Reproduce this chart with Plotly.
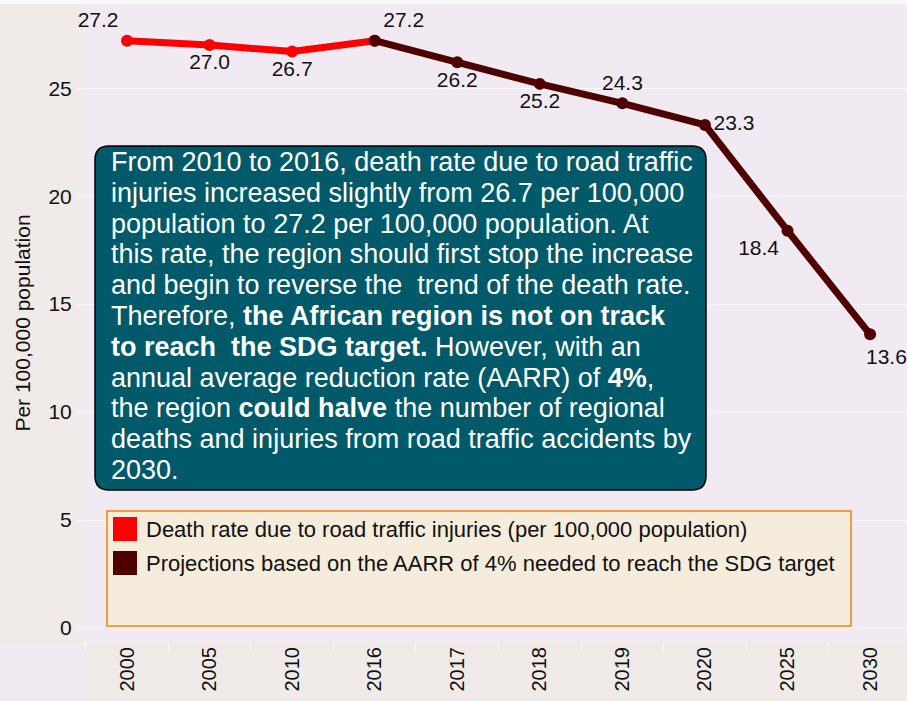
import plotly.graph_objects as go

# ---- data ----
years = ["2000", "2005", "2010", "2016", "2017", "2018", "2019", "2020", "2025", "2030"]
observed_years = ["2000", "2005", "2010", "2016"]
observed_rate = [27.2, 27.0, 26.7, 27.2]
projection_years = ["2016", "2017", "2018", "2019", "2020", "2025", "2030"]
projection_rate = [27.2, 26.2, 25.2, 24.3, 23.3, 18.4, 13.6]
y_ticks = [0, 5, 10, 15, 20, 25]
legend_names = ["Death rate due to road traffic injuries (per 100,000 population)",
                "Projections based on the AARR of 4% needed to reach the SDG target"]
box_lines = [
    "From 2010 to 2016, death rate due to road traffic",
    "injuries increased slightly from 26.7 per 100,000",
    "population to 27.2 per 100,000 population. At",
    "this rate, the region should first stop the increase",
    "and begin to reverse the\u00a0 trend of the death rate.",
    "Therefore, <b>the African region is not on track</b>",
    "<b>to reach\u00a0 the SDG target.</b> However, with an",
    "annual average reduction rate (AARR) of <b>4%</b>,",
    "the region <b>could halve</b> the number of regional",
    "deaths and injuries from road traffic accidents by",
    "2030.",
]

RED = "#ff0000"
DARK = "#4f0000"
LAV = "#f1eaf3"
BEIGE = "#f0ebe8"
FONT = "Liberation Sans, Arial, sans-serif"
LABEL_FONT = dict(size=21, color="#111111", family=FONT)

W, H = 907, 701
ML, MR, MT, MB = 84, 0, 4, 59
PW, PH = W - ML - MR, H - MT - MB


def px_x(px):
    return (px - ML) / PW


def px_y(py):
    return (H - MB - py) / PH


fig = go.Figure()

fig.add_trace(go.Scatter(
    x=observed_years, y=observed_rate, mode="lines+markers+text",
    line=dict(color=RED, width=7), marker=dict(color=RED, size=12),
    text=[f"{v:.1f}" if i < 3 else "" for i, v in enumerate(observed_rate)],
    textposition=["top left", "bottom center", "bottom center", "top center"],
    textfont=LABEL_FONT, name=legend_names[0],
    showlegend=False, cliponaxis=False,
))
proj_text = [f"{v:.1f}" for v in projection_rate]
proj_text[-1] = ""  # last label placed as annotation so it stays inside the page
fig.add_trace(go.Scatter(
    x=projection_years, y=projection_rate, mode="lines+markers+text",
    line=dict(color=DARK, width=7), marker=dict(color=DARK, size=12),
    text=proj_text,
    textposition=["top right", "bottom center", "bottom center", "top center",
                  "middle right", "bottom left", "bottom right"],
    textfont=LABEL_FONT, name=legend_names[1],
    showlegend=False, cliponaxis=False,
))

shapes = [
    # top light band
    dict(type="rect", xref="paper", yref="paper", x0=-ML / PW, x1=1, y0=1, y1=1 + MT / PH,
         fillcolor="#faf8fa", line=dict(width=0), layer="below"),
    # y-axis band
    dict(type="rect", xref="paper", yref="paper", x0=-ML / PW, x1=0, y0=0, y1=1,
         fillcolor=BEIGE, line=dict(width=0), layer="below"),
    # x-axis band
    dict(type="rect", xref="paper", yref="paper", x0=0, x1=1, y0=-MB / PH, y1=0,
         fillcolor=BEIGE, line=dict(width=0), layer="below"),
    # legend box
    dict(type="rect", xref="paper", yref="paper", x0=px_x(107), x1=px_x(851),
         y0=px_y(626), y1=px_y(511), fillcolor="#f5ecdc",
         line=dict(color="#f39c3c", width=2), layer="above"),
]

# rounded text box
x0, x1 = px_x(95), px_x(706)
y1, y0 = px_y(146), px_y(490)
rx, ry = 14 / PW, 14 / PH
path = (f"M {x0+rx},{y0} L {x1-rx},{y0} Q {x1},{y0} {x1},{y0+ry} "
        f"L {x1},{y1-ry} Q {x1},{y1} {x1-rx},{y1} L {x0+rx},{y1} "
        f"Q {x0},{y1} {x0},{y1-ry} L {x0},{y0+ry} Q {x0},{y0} {x0+rx},{y0} Z")
shapes.append(dict(type="path", xref="paper", yref="paper", path=path,
                   fillcolor="#005a69", line=dict(color="#000000", width=1.5),
                   layer="above"))

annotations = []
for i, line in enumerate(box_lines):
    annotations.append(dict(
        xref="paper", yref="paper", x=px_x(109), y=px_y(162 + 30.8 * i),
        xanchor="left", yanchor="middle", text=line, showarrow=False,
        font=dict(size=27, color="white", family=FONT), align="left",
    ))

# legend (square swatches + labels)
for i, (name, col) in enumerate(zip(legend_names, [RED, DARK])):
    top = 517 + 34 * i
    shapes.append(dict(type="rect", xref="paper", yref="paper",
                       x0=px_x(113), x1=px_x(137), y0=px_y(top + 24), y1=px_y(top),
                       fillcolor=col, line=dict(width=0), layer="above"))
    annotations.append(dict(
        xref="paper", yref="paper", x=px_x(144), y=px_y(top + 12),
        xanchor="left", yanchor="middle", text=name, showarrow=False,
        font=dict(size=22, color="#111111", family=FONT), align="left",
    ))

# last projection label (category axis -> serial index)
annotations.append(dict(
    x=years.index(projection_years[-1]), y=projection_rate[-1], xref="x", yref="y",
    text=f"{projection_rate[-1]:.1f}", showarrow=False,
    xanchor="left", yanchor="top", xshift=-6, yshift=-9, font=LABEL_FONT,
))

fig.update_layout(
    width=W, height=H,
    margin=dict(l=ML, r=MR, t=MT, b=MB),
    paper_bgcolor=LAV, plot_bgcolor=LAV,
    font=dict(family=FONT, color="#111111"),
    shapes=shapes, annotations=annotations, showlegend=False,
    xaxis=dict(type="category", categoryarray=years, categoryorder="array",
               range=[-0.521, 9.447], showgrid=False, tickangle=-90,
               tickfont=dict(size=20), ticks="outside", tickson="boundaries",
               tickcolor="white", ticklen=8, showline=False, zeroline=False),
    yaxis=dict(range=[-0.65, 28.9], tickvals=y_ticks, showgrid=True,
               gridcolor="rgba(255,255,255,0.7)", gridwidth=1,
               tickfont=dict(size=21), ticks="outside", tickcolor="white", ticklen=7,
               zeroline=False, showline=False,
               title=dict(text="Per 100,000 population", font=dict(size=21), standoff=12)),
)

fig.write_html("out.html", config={"displayModeBar": False},
               post_script="document.body.style.margin='0';document.body.style.padding='0';")
